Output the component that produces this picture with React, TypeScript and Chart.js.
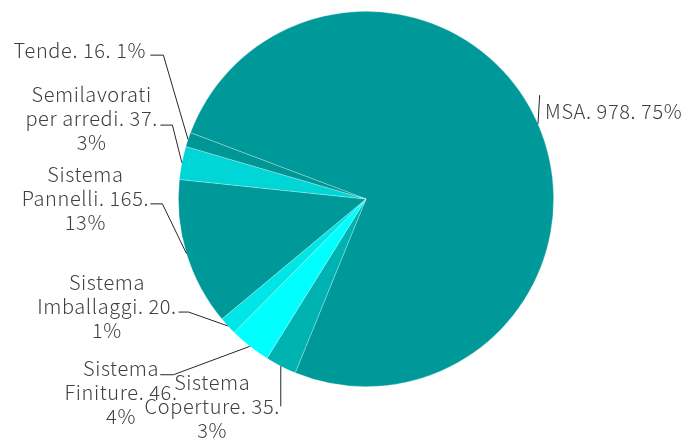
import React, { useEffect, useRef } from "react";
import { Chart, registerables } from "chart.js";

Chart.register(...registerables);

// ---- data ----
const categories = [
  "MSA",
  "Sistema Coperture",
  "Sistema Finiture",
  "Sistema Imballaggi",
  "Sistema Pannelli",
  "Semilavorati per arredi",
  "Tende",
];
const values = [978, 35, 46, 20, 165, 37, 16];
const percents = [75, 3, 4, 1, 13, 3, 1];

// ---- style / layout ----
const sliceColors = ["#009999", "#00B3B3", "#00FFFF", "#00E6E6", "#009999", "#00D6D6", "#009696"];
const FONT = '300 20px "Noto Sans CJK JP", "Noto Sans", sans-serif';
const LETTER_SPACING = "0.6px";
const TEXT_COLOR = "#404040";
const LINE_COLOR = "#262626";
const LINE_HEIGHT = 24;

// offsets relative to the slice's outer mid-point: text centre / first baseline, leader elbow, leader end
type LabelLayout = { tx: number; ty: number; ex: number; ey: number; sx: number; sy: number; wrap: number };
const labelLayout: LabelLayout[] = [
  { tx: 75.7, ty: -4.5, ex: 1.7, ey: -28.8, sx: 1.7, sy: -28.8, wrap: 220 },
  { tx: -68.6, ty: 23.5, ex: 0, ey: 40.2, sx: 0, sy: 40.2, wrap: 140 },
  { tx: -128.8, ty: 29.4, ex: -76.3, ey: 28.4, sx: -89.6, sy: 28.4, wrap: 140 },
  { tx: -120.9, ty: -36.2, ex: -39.3, ey: -13.9, sx: -49.3, sy: -13.9, wrap: 140 },
  { tx: -101.1, ty: -72, ex: -24.1, ey: -49.7, sx: -36.1, sy: -49.7, wrap: 140 },
  { tx: -90.3, ty: -61, ex: -9.5, ey: -37.7, sx: -21.5, sy: -37.7, wrap: 140 },
  { tx: -108.2, ty: -81.1, ex: -24.7, ey: -84.4, sx: -37.7, sy: -84.4, wrap: 150 },
];

function wrapText(ctx: CanvasRenderingContext2D, text: string, maxW: number): string[] {
  const words = text.split(" ");
  const lines: string[] = [];
  let cur = "";
  for (const w of words) {
    const test = cur ? cur + " " + w : w;
    if (cur && ctx.measureText(test).width > maxW) {
      lines.push(cur);
      cur = w;
    } else {
      cur = test;
    }
  }
  if (cur) lines.push(cur);
  return lines;
}

const labelPlugin = {
  id: "pieLabels",
  afterDatasetsDraw(chart: any) {
    const ctx: CanvasRenderingContext2D = chart.ctx;
    const meta = chart.getDatasetMeta(0);
    ctx.save();
    ctx.font = FONT;
    (ctx as any).letterSpacing = LETTER_SPACING;
    ctx.textAlign = "center";
    ctx.textBaseline = "alphabetic";
    meta.data.forEach((arc: any, i: number) => {
      const p = arc.getProps(["x", "y", "startAngle", "endAngle", "outerRadius"], true);
      const mid = (p.startAngle + p.endAngle) / 2;
      const ax = p.x + Math.cos(mid) * p.outerRadius;
      const ay = p.y + Math.sin(mid) * p.outerRadius;
      const L = labelLayout[i];
      ctx.strokeStyle = LINE_COLOR;
      ctx.lineWidth = 1;
      ctx.beginPath();
      ctx.moveTo(ax, ay);
      ctx.lineTo(ax + L.ex, ay + L.ey);
      ctx.lineTo(ax + L.sx, ay + L.sy);
      ctx.stroke();
      const text = `${categories[i]}. ${values[i]}. ${percents[i]}%`;
      const lines = wrapText(ctx, text, L.wrap);
      ctx.fillStyle = TEXT_COLOR;
      lines.forEach((ln, k) => {
        ctx.fillText(ln, ax + L.tx, ay + L.ty + k * LINE_HEIGHT);
      });
    });
    ctx.restore();
  },
};

export default function App() {
  const ref = useRef<HTMLCanvasElement | null>(null);
  useEffect(() => {
    if (!ref.current) return;
    const chart = new Chart(ref.current, {
      type: "pie",
      data: {
        labels: categories,
        datasets: [
          {
            data: values,
            backgroundColor: sliceColors,
            borderColor: "rgba(255,255,255,0.35)",
            borderWidth: 0.75,
          },
        ],
      },
      options: {
        responsive: false,
        animation: false,
        rotation: -69.3,
        layout: { padding: { left: 178, top: 11, right: 135, bottom: 56 } },
        plugins: {
          legend: { display: false },
          tooltip: { enabled: false },
        },
      },
      plugins: [labelPlugin],
    });
    return () => chart.destroy();
  }, []);
  return (
    <div style={{ position: "absolute", left: 0, top: 0, width: 689, height: 443, background: "#fff" }}>
      <canvas ref={ref} width={689} height={443} style={{ display: "block" }} />
    </div>
  );
}
